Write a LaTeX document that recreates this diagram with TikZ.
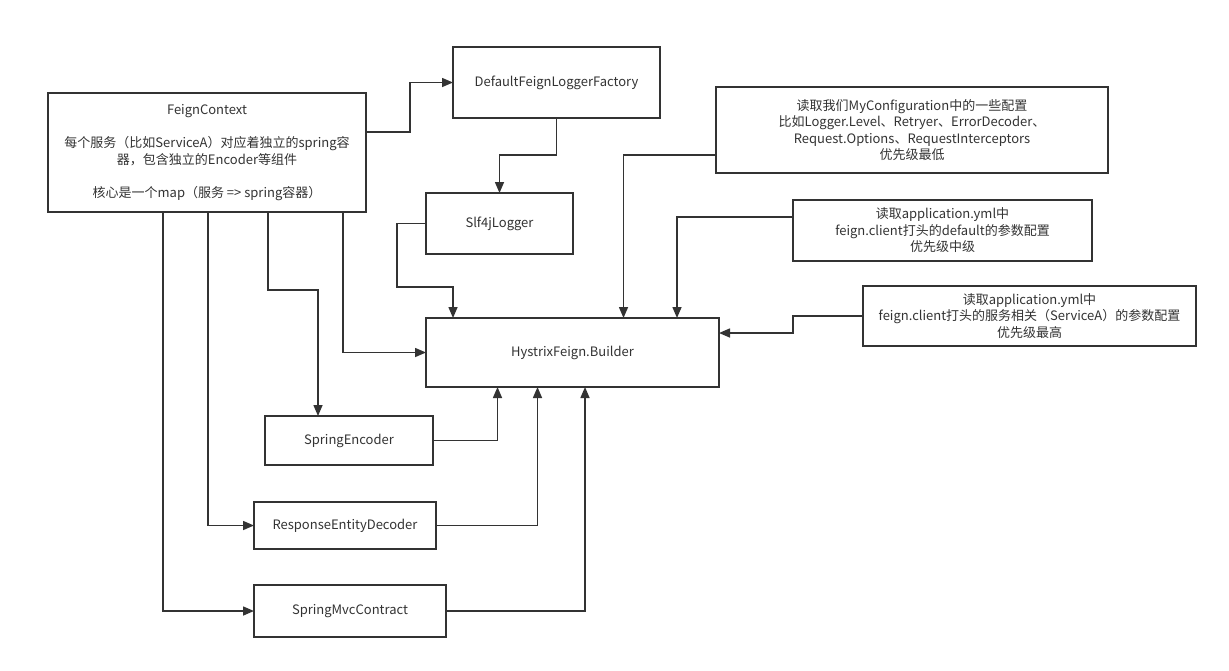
\documentclass[tikz,border=0pt]{standalone}
\usepackage{fontspec}
\setmainfont{Noto Sans CJK SC}
\usetikzlibrary{arrows.meta}
\definecolor{lineColor}{HTML}{333333}
\tikzset{
	box/.style={draw=lineColor, line width=1.5pt, inner sep=0, outer sep=0, align=center,
		text=lineColor, font=\fontsize{13}{16.5}\selectfont},
	arr/.style={draw=lineColor, line width=1.5pt, -{Triangle[length=11pt,width=9pt]}}
}
\begin{document}
\begin{tikzpicture}[x=1pt,y=-1pt]
	\useasboundingbox[fill=white] (0,0) rectangle (1229,670);
	\node[box, minimum width=318pt, minimum height=119pt] (fc) at (207,152.5) {FeignContext\\[16.5pt]
		每个服务（比如ServiceA）对应着独立的spring容\\器，包含独立的Encoder等组件\\[16.5pt]
		核心是一个map（服务 => spring容器）};
	\node[box, minimum width=207pt, minimum height=71pt] (dflf) at (556.5,82.5) {DefaultFeignLoggerFactory};
	\node[box, minimum width=147pt, minimum height=61pt] (slf) at (499.5,223.5) {Slf4jLogger};
	\node[box, minimum width=392pt, minimum height=86pt] (mc) at (912,130) {读取我们MyConfiguration中的一些配置\\
		比如Logger.Level、Retryer、ErrorDecoder、\\Request.Options、RequestInterceptors\\优先级最低};
	\node[box, minimum width=299pt, minimum height=61pt] (dc) at (942.5,230.5) {读取application.yml中\\
		feign.client打头的default的参数配置\\优先级中级};
	\node[box, minimum width=333pt, minimum height=60pt] (sc) at (1029.5,316) {读取application.yml中\\
		feign.client打头的服务相关（ServiceA）的参数配置\\优先级最高};
	\node[box, minimum width=293pt, minimum height=69pt] (hb) at (572.5,352.5) {HystrixFeign.Builder};
	\node[box, minimum width=168pt, minimum height=49pt] (se) at (349,440.5) {SpringEncoder};
	\node[box, minimum width=182pt, minimum height=47pt] (red) at (345,525.5) {ResponseEntityDecoder};
	\node[box, minimum width=192pt, minimum height=52pt] (smc) at (350,611) {SpringMvcContract};
	% logger
	\draw[arr] ([yshift=20.5pt]fc.east) -- ++(44,0) |- (dflf.west);
	\draw[arr] (dflf.south) -- ++(0,37) -| (slf.north);
	\draw[arr] (slf.west) -- ++(-29,0) -- ++(0,63.5) -| ([xshift=-119.5pt]hb.north);
	% configurations
	\draw[arr] ([yshift=-25pt]mc.west) -| ([xshift=51pt]hb.north);
	\draw[arr] ([yshift=13.5pt]dc.west) -| ([xshift=104.5pt]hb.north);
	\draw[arr] (sc.west) -- ++(-70,0) |- ([yshift=19.5pt]hb.east);
	% feign context
	\draw[arr] ([xshift=136pt]fc.south) |- (hb.west);
	\draw[arr] ([xshift=61pt]fc.south) -- ++(0,78) -| ([xshift=-31pt]se.north);
	\draw[arr] ([xshift=1pt]fc.south) |- (red.west);
	\draw[arr] ([xshift=-44pt]fc.south) |- (smc.west);
	% components
	\draw[arr] (se.east) -| ([xshift=-75pt]hb.south);
	\draw[arr] (red.east) -| ([xshift=-35pt]hb.south);
	\draw[arr] (smc.east) -| ([xshift=12.5pt]hb.south);
\end{tikzpicture}
\end{document}
